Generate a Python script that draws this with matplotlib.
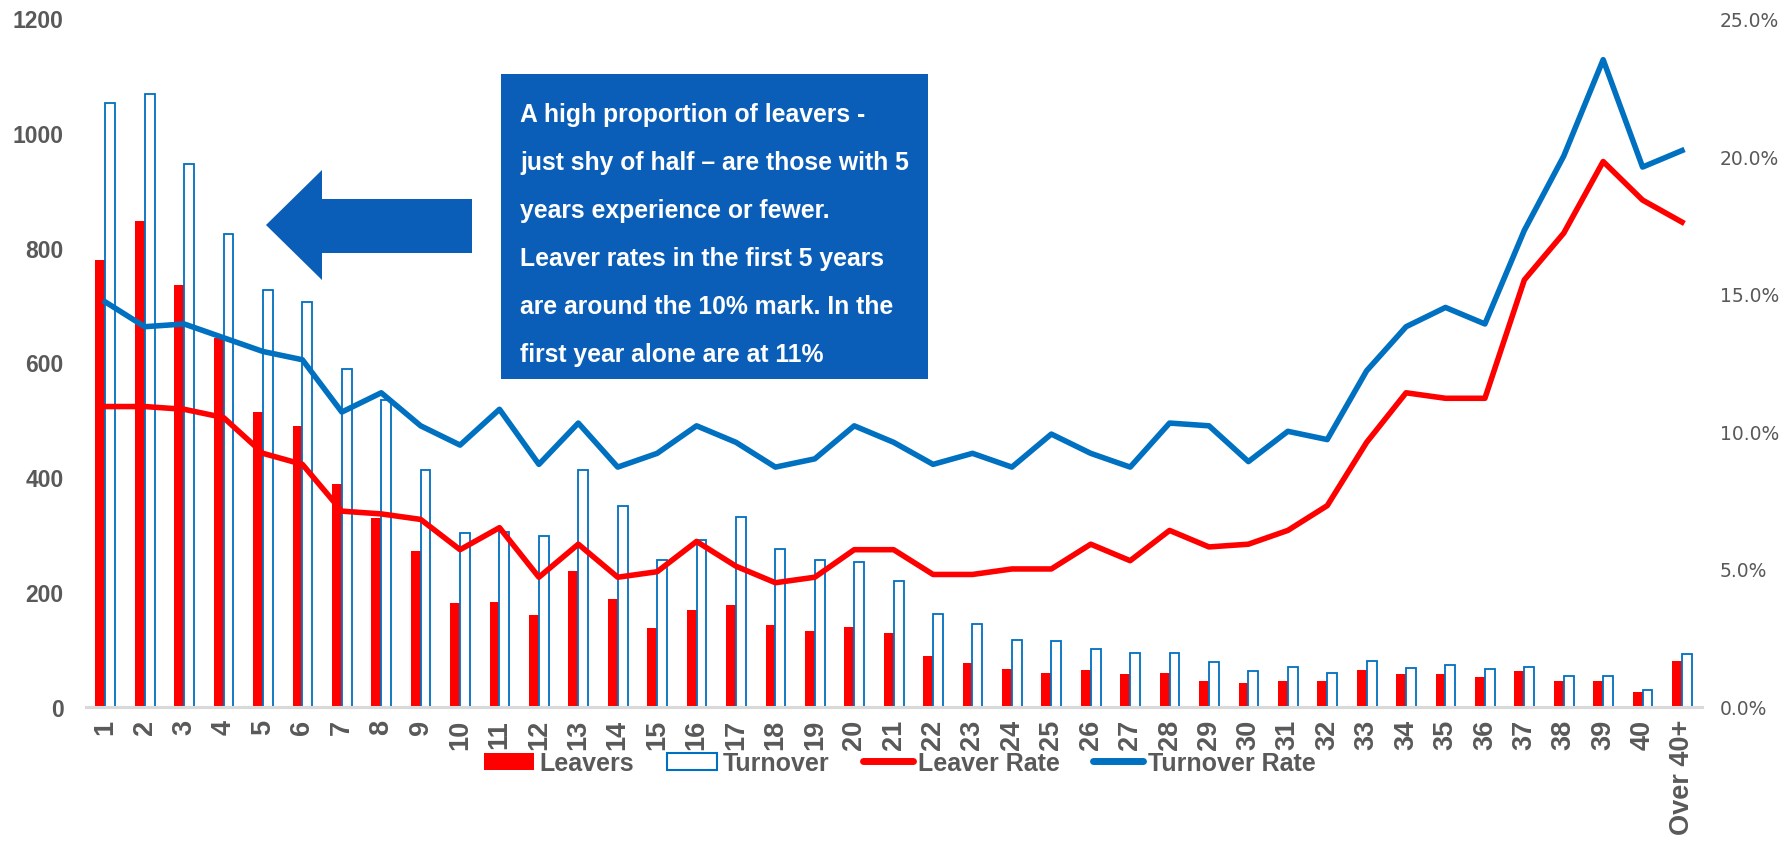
import matplotlib
matplotlib.use("Agg")
import matplotlib.pyplot as plt
from matplotlib.patches import Polygon, Rectangle, Patch
from matplotlib.lines import Line2D
from matplotlib import font_manager
import numpy as np

# ---- data ----
categories = [str(i) for i in range(1, 41)] + ["Over 40+"]
leavers = [778, 846, 735, 642, 514, 489, 389, 329, 271, 180, 183, 160, 236, 188,
           137, 168, 178, 143, 132, 139, 128, 88, 76, 66, 58, 64, 56, 59, 44, 41,
           44, 44, 63, 56, 56, 52, 62, 45, 44, 26, 80]
turnover = [1053, 1068, 946, 824, 726, 706, 589, 535, 412, 302, 304, 297, 412, 349,
            256, 290, 331, 275, 255, 253, 219, 161, 144, 117, 115, 100, 94, 94, 78, 62,
            69, 59, 80, 68, 73, 65, 69, 53, 53, 29, 92]
leaver_rate = [10.9, 10.9, 10.8, 10.5, 9.2, 8.8, 7.1, 7.0, 6.8, 5.7, 6.5, 4.7, 5.9, 4.7,
               4.9, 6.0, 5.1, 4.5, 4.7, 5.7, 5.7, 4.8, 4.8, 5.0, 5.0, 5.9, 5.3, 6.4, 5.8,
               5.9, 6.4, 7.3, 9.6, 11.4, 11.2, 11.2, 15.5, 17.2, 19.8, 18.4, 17.6]
turnover_rate = [14.7, 13.8, 13.9, 13.4, 12.9, 12.6, 10.7, 11.4, 10.2, 9.5, 10.8, 8.8, 10.3,
                 8.7, 9.2, 10.2, 9.6, 8.7, 9.0, 10.2, 9.6, 8.8, 9.2, 8.7, 9.9, 9.2, 8.7,
                 10.3, 10.2, 8.9, 10.0, 9.7, 12.2, 13.8, 14.5, 13.9, 17.3, 20.0, 23.5,
                 19.6, 20.2]
left_ticks = [0, 200, 400, 600, 800, 1000, 1200]
right_ticks = [0, 5, 10, 15, 20, 25]
note_lines = ["A high proportion of leavers -",
              "just shy of half \u2013 are those with 5",
              "years experience or fewer.",
              "Leaver rates in the first 5 years",
              "are around the 10% mark. In the",
              "first year alone are at 11%"]

RED = "#FF0000"
BLUE = "#0070C0"
BOX = "#0B5EB8"
GREY = "#595959"

W, H = 1789, 845
def fx(px):
    return px / W
def fy(py):
    return 1 - py / H

names = {f.name for f in font_manager.fontManager.ttflist}
NARROW = "Liberation Sans Narrow" in names
cond = ["Liberation Sans Narrow", "Liberation Sans"] if NARROW else ["Liberation Sans"]

fig = plt.figure(figsize=(W / 100, H / 100), dpi=100)
fig.patch.set_facecolor("white")

ax = fig.add_axes([fx(85.6), fy(707.6), fx(1701.7) - fx(85.6), fy(19.4) - fy(707.6)])
x = np.arange(len(categories))
bw = 0.25
ax.bar(x - bw / 2, leavers, width=bw, color=RED, zorder=2)
ax.bar(x + bw / 2, turnover, width=bw, facecolor="white", edgecolor=BLUE,
       linewidth=1.3, zorder=2)
ax.set_xlim(-0.5, len(categories) - 0.5)
ax.set_ylim(0, 1200)
ax.set_yticks(left_ticks)
ax.set_yticklabels([str(t) for t in left_ticks], fontsize=16.5, fontweight="bold",
                   color=GREY, family="Liberation Sans")
ax.set_xticks(x)
ax.set_xticklabels(categories, rotation=90, fontsize=19.5, fontweight="bold",
                   color=GREY, family="Liberation Sans")
ax.tick_params(axis="both", length=0)
ax.tick_params(axis="y", pad=16)
ax.tick_params(axis="x", pad=9)
for s in ["top", "right", "left"]:
    ax.spines[s].set_visible(False)
ax.spines["bottom"].set_color("#D9D9D9")
ax.spines["bottom"].set_linewidth(2.2)
ax.spines["bottom"].set_zorder(3)

ax2 = ax.twinx()
ax2.plot(x, leaver_rate, color=RED, lw=4.0, solid_joinstyle="round", zorder=4)
ax2.plot(x, turnover_rate, color=BLUE, lw=4.0, solid_joinstyle="round", zorder=4)
ax2.set_ylim(0, 25)
ax2.set_yticks(right_ticks)
ax2.set_yticklabels([f"{t:.1f}%" for t in right_ticks], fontsize=13.5, color=GREY,
                    family="DejaVu Sans")
ax2.tick_params(axis="y", length=0, pad=13)
for s in ax2.spines.values():
    s.set_visible(False)

# callout box + arrow
fig.patches.append(Rectangle((fx(501), fy(379.5)), fx(927.5) - fx(501), fy(75) - fy(379.5),
                             transform=fig.transFigure, facecolor=BOX, edgecolor="none",
                             zorder=5))
arrow = [(266, 226), (322, 171), (322, 200), (472, 200), (472, 254), (322, 254), (322, 281)]
fig.patches.append(Polygon([(fx(a), fy(b)) for a, b in arrow], closed=True,
                           transform=fig.transFigure, facecolor=BOX, edgecolor="none",
                           zorder=5))
box_fs = 20 if NARROW else 17.8
for i, line in enumerate(note_lines):
    fig.text(fx(520), fy(122 + 48 * i), line, color="white", fontsize=box_fs,
             fontweight="bold", family=cond, va="baseline", ha="left", zorder=6)

handles = [
    Patch(facecolor=RED, edgecolor="none", label="Leavers"),
    Patch(facecolor="white", edgecolor=BLUE, linewidth=1.5, label="Turnover"),
    Line2D([0], [0], color=RED, lw=5, solid_capstyle="round", label="Leaver Rate"),
    Line2D([0], [0], color=BLUE, lw=5, solid_capstyle="round", label="Turnover Rate"),
]
leg = fig.legend(handles=handles, loc="center", bbox_to_anchor=(fx(900), fy(764)),
                 ncol=4, frameon=False, handlelength=2.0, handleheight=0.7,
                 handletextpad=0.2, columnspacing=1.35,
                 prop={"family": cond, "weight": "bold", "size": 20 if NARROW else 18})
for t in leg.get_texts():
    t.set_color(GREY)

fig.savefig("out.png", dpi=100, facecolor="white")
